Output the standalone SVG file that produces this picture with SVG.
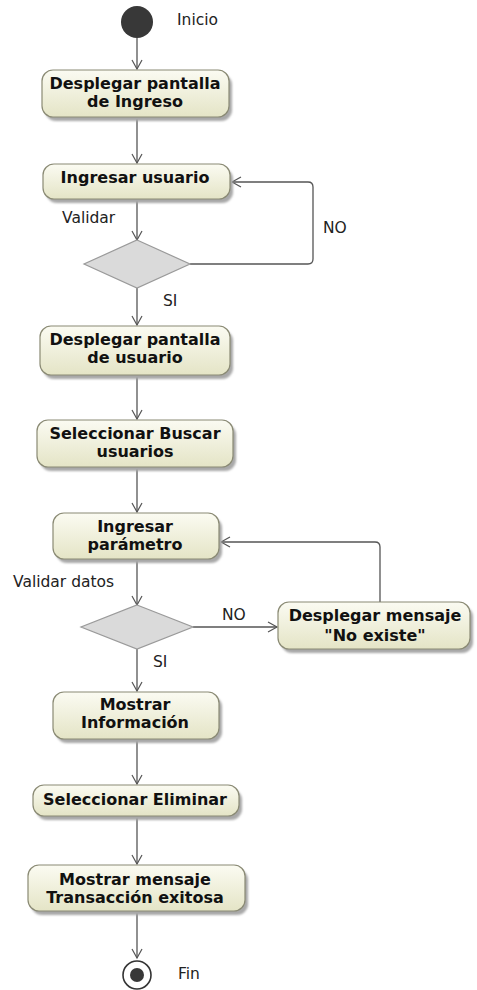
<svg xmlns="http://www.w3.org/2000/svg" width="477" height="990" viewBox="0 0 477 990">
  <defs>
    <linearGradient id="actFill" x1="0" y1="0" x2="0" y2="1">
      <stop offset="0" stop-color="#fbfbf2"/>
      <stop offset="1" stop-color="#e4e4c6"/>
    </linearGradient>
    <filter id="soft" x="-10%" y="-20%" width="130%" height="160%">
      <feGaussianBlur stdDeviation="1.2"/>
    </filter>
    <marker id="open" markerWidth="12" markerHeight="12" refX="10" refY="6" orient="auto" markerUnits="userSpaceOnUse">
      <path d="M1,1 L10,6 L1,11" fill="none" stroke="#555" stroke-width="1.2"/>
    </marker>
  </defs>
  <style>
    .shadow { fill: #a8a8a8; filter: url(#soft); }
    .act { fill: url(#actFill); stroke: #8a8a74; stroke-width: 1.2; }
    .lbl { font-family: "DejaVu Sans", Verdana, sans-serif; font-weight: bold; font-size: 16px; fill: #111; text-anchor: middle; }
    .note { font-family: "DejaVu Sans", Verdana, sans-serif; font-size: 15.5px; fill: #222; }
    .edge { fill: none; stroke: #555; stroke-width: 1.3; marker-end: url(#open); }
    .dec { fill: #dadada; stroke: #9a9a9a; stroke-width: 1.2; }
  </style>
  <rect width="477" height="990" fill="#ffffff"/>

  <g id="connectors">
    <path class="edge" d="M137,38 L137,69"/>
    <path class="edge" d="M137,118 L137,163"/>
    <path class="edge" d="M137,200 L137,240"/>
    <path class="edge" d="M190,264 L308,264 Q313,264 313,259 L313,187 Q313,182 308,182 L232,182"/>
    <path class="edge" d="M137,288 L137,325"/>
    <path class="edge" d="M137,376 L137,419"/>
    <path class="edge" d="M137,468 L137,512"/>
    <path class="edge" d="M137,560 L137,605"/>
    <path class="edge" d="M193,627 L277,627"/>
    <path class="edge" d="M380,602 L380,547 Q380,542 375,542 L221,542"/>
    <path class="edge" d="M137,649 L137,691"/>
    <path class="edge" d="M137,740 L137,784"/>
    <path class="edge" d="M137,817 L137,864"/>
    <path class="edge" d="M137,912 L137,958"/>
  </g>

  <g id="inicio">
    <circle cx="137" cy="22" r="16" fill="#383838"/>
    <text class="note" x="177" y="25">Inicio</text>
  </g>

  <g id="desplegar-ingreso">
    <rect class="shadow" x="45" y="74" width="187" height="47" rx="11"/>
    <rect class="act" x="42" y="70" width="187" height="47" rx="11"/>
    <text class="lbl" x="135" y="89">Desplegar pantalla</text>
    <text class="lbl" x="135" y="107">de Ingreso</text>
  </g>

  <g id="ingresar-usuario">
    <rect class="shadow" x="46" y="168" width="187" height="35" rx="11"/>
    <rect class="act" x="43" y="164" width="187" height="35" rx="11"/>
    <text class="lbl" x="135" y="183">Ingresar usuario</text>
  </g>

  <g id="validar">
    <polygon class="dec" points="137,240 190,264 137,288 84,264"/>
    <text class="note" x="62" y="223">Validar</text>
    <text class="note" x="323" y="233">NO</text>
    <text class="note" x="163" y="306">SI</text>
  </g>

  <g id="desplegar-usuario">
    <rect class="shadow" x="43" y="330" width="190" height="49" rx="11"/>
    <rect class="act" x="40" y="326" width="190" height="49" rx="11"/>
    <text class="lbl" x="135" y="345">Desplegar pantalla</text>
    <text class="lbl" x="135" y="363">de usuario</text>
  </g>

  <g id="seleccionar-buscar">
    <rect class="shadow" x="40" y="424" width="196" height="47" rx="11"/>
    <rect class="act" x="37" y="420" width="196" height="47" rx="11"/>
    <text class="lbl" x="135" y="439">Seleccionar Buscar</text>
    <text class="lbl" x="135" y="457">usuarios</text>
  </g>

  <g id="ingresar-parametro">
    <rect class="shadow" x="56" y="517" width="166" height="46" rx="11"/>
    <rect class="act" x="53" y="513" width="166" height="46" rx="11"/>
    <text class="lbl" x="135" y="532">Ingresar</text>
    <text class="lbl" x="135" y="550">parámetro</text>
  </g>

  <g id="validar-datos">
    <polygon class="dec" points="137,605 193,627 137,649 81,627"/>
    <text class="note" x="13" y="587">Validar datos</text>
    <text class="note" x="222" y="620">NO</text>
    <text class="note" x="153" y="667">SI</text>
  </g>

  <g id="mensaje-no-existe">
    <rect class="shadow" x="281" y="606" width="192" height="47" rx="11"/>
    <rect class="act" x="278" y="602" width="192" height="47" rx="11"/>
    <text class="lbl" x="375" y="621">Desplegar mensaje</text>
    <text class="lbl" x="375" y="641">"No existe"</text>
  </g>

  <g id="mostrar-informacion">
    <rect class="shadow" x="56" y="696" width="166" height="47" rx="11"/>
    <rect class="act" x="53" y="692" width="166" height="47" rx="11"/>
    <text class="lbl" x="135" y="710">Mostrar</text>
    <text class="lbl" x="135" y="728">Información</text>
  </g>

  <g id="seleccionar-eliminar">
    <rect class="shadow" x="36" y="789" width="206" height="31" rx="11"/>
    <rect class="act" x="33" y="785" width="206" height="31" rx="11"/>
    <text class="lbl" x="135" y="805">Seleccionar Eliminar</text>
  </g>

  <g id="mensaje-exito">
    <rect class="shadow" x="31" y="869" width="217" height="46" rx="11"/>
    <rect class="act" x="28" y="865" width="217" height="46" rx="11"/>
    <text class="lbl" x="135" y="885">Mostrar mensaje</text>
    <text class="lbl" x="135" y="903">Transacción exitosa</text>
  </g>

  <g id="fin">
    <circle cx="137" cy="975" r="14" fill="#ffffff" stroke="#333" stroke-width="1.6"/>
    <circle cx="137" cy="975" r="7" fill="#383838"/>
    <text class="note" x="178" y="979">Fin</text>
  </g>
</svg>
